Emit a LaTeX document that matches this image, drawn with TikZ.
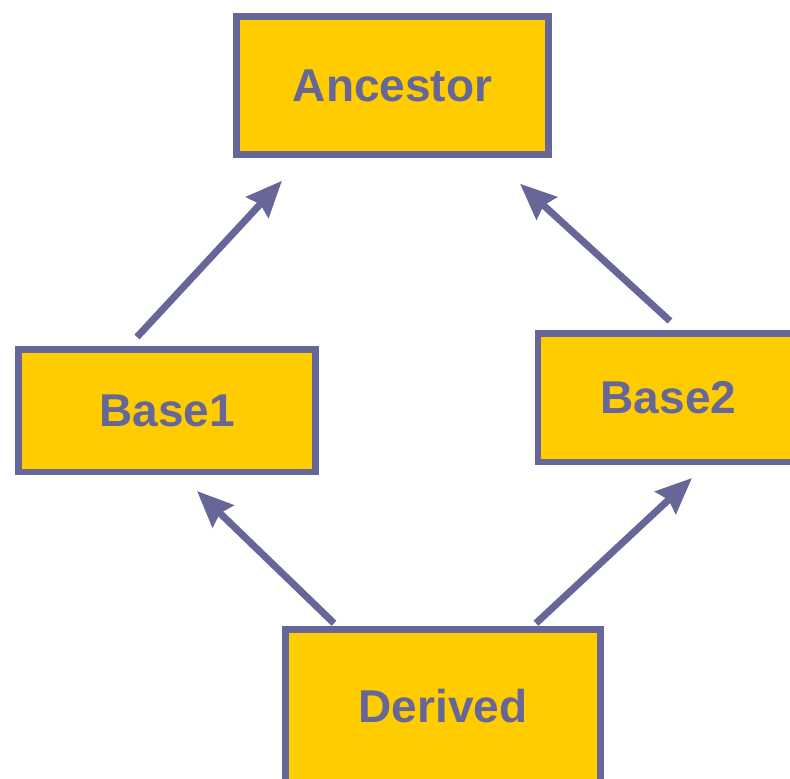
\documentclass[tikz,border=0pt]{standalone}
\usepackage{fontspec}
\setmainfont{Liberation Sans}
\usetikzlibrary{arrows.meta}
\definecolor{frame}{RGB}{102,102,153}
\definecolor{gold}{RGB}{255,204,0}

\begin{document}
\begin{tikzpicture}[x=1pt, y=-1pt,
    cls/.style={draw=frame, fill=gold, line width=6.5pt,
                minimum width=#1, inner sep=0pt,
                font=\fontsize{46}{55}\selectfont\bfseries, text=frame},
    arr/.style={-{Stealth[length=36pt, width=30pt, inset=4pt]},
                line width=7pt, frame}]

    \useasboundingbox (0,0) rectangle (790,779);

    % class boxes
    \node[cls=312pt, minimum height=138pt]   (anc)   at (392.5,85.5) {Ancestor};
    \node[cls=297pt, minimum height=122.5pt] (base1) at (167,410.5)  {Base1};
    \node[cls=261pt, minimum height=128.5pt] (base2) at (668.5,397.5) {Base2};
    \node[cls=315pt, minimum height=153pt]   (der)   at (443,706)    {Derived};

    % inheritance arrows
    \draw[arr] ([xshift=-30pt,yshift=9pt]base1.north) -- ([xshift=-110.5pt,yshift=-23pt]anc.south);
    \draw[arr] ([xshift=1.5pt,yshift=9pt]base2.north) -- ([xshift=127.5pt,yshift=-26pt]anc.south);
    \draw[arr] ([xshift=-109pt,yshift=3pt]der.north) -- ([xshift=30pt,yshift=-16pt]base1.south);
    \draw[arr] ([xshift=93pt,yshift=3pt]der.north) -- ([xshift=23.5pt,yshift=-13pt]base2.south);
\end{tikzpicture}
\end{document}
